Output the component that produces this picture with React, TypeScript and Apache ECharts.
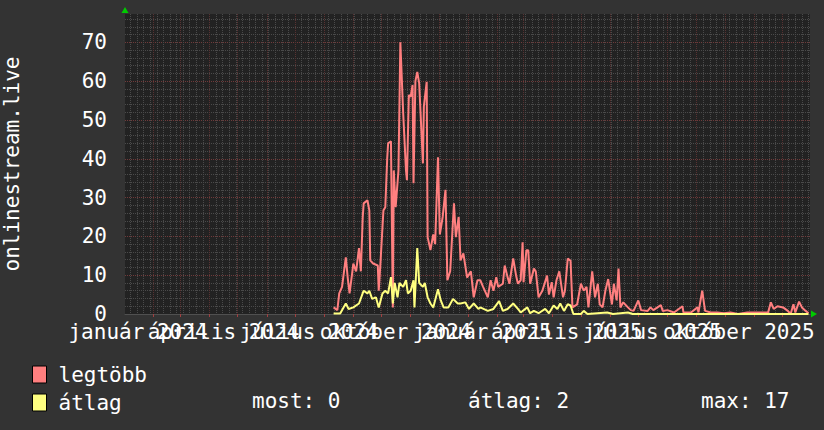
import React, { useEffect, useRef } from "react";
import * as echarts from "echarts";

const FONT = "DejaVu Sans Mono";

// days counted from 2024-01-01
const maxDays = [223,227,229,232,236,238,240,243,244,247,250,252,254,255,259,261,262,265,270,271,273,276,278,280,281,284,286,287,289,292,294,297,300,301,303,305,307,308,310,312,314,318,319,322,323,326,329,331,334,336,339,342,344,347,351,353,356,358,361,365,369,372,376,379,382,387,390,393,396,398,403,405,408,410,414,417,419,422,424,425,428,430,432,436,438,441,445,450,452,455,457,460,463,467,469,472,475,477,482,486,489,492,494,498,501,504,506,509,512,515,519,521,524,526,528,531,536,539,542,547,550,557,560,563,571,573,578,585,594,595,603,610,611,615,618,624,631,638,645,653,663,677,685,688,691,695,701,706,709,712,714,718,721,725,728];
const maxValues = [1.7,1.0,5.3,7,14.6,9.4,5.3,11,13,11,17,11,25,28.5,29.3,26.7,13.8,13,12.5,6,13.8,26.7,27.5,40,44,44.5,1.7,37,27.5,37,70,51.8,37,34.5,56.4,56,59,33.7,60,62.4,59.5,38.8,53.5,59.8,19.8,16.5,20.5,18,40.4,20.5,25,32,8.7,11,28.5,19.8,25,13.8,15.6,9.4,11,4.3,8.7,8.7,7,4.3,8.7,6,9.5,7,7.8,12.5,9.5,7.8,14.3,10,7.8,8.7,18.5,8.2,16.4,16.4,7.8,11.7,11,4.3,6,9.9,5,8.2,4.3,8.7,11,4.3,6,14.3,13.7,1.7,2.5,7.8,6,7,1.7,11,4.3,7.8,2.5,1.7,6,9,2.5,7.8,3.5,11.7,1.7,3,1.7,1,0.8,3.5,1,0.8,1.7,1,2.3,0.8,1,0.4,2,0.4,0.4,1.7,0.4,6,0.8,0.4,0.4,0.2,0.4,0,0.4,0.4,0.4,3,1.3,2,1.7,0.8,0,2.5,0.4,3.2,1.7,0.8,0.2];

const avgDays = [223,230,236,239,244,250,255,259,261,264,268,271,275,278,281,284,286,288,291,293,297,300,302,305,308,309,312,314,318,320,323,326,329,334,337,340,345,350,355,358,363,367,372,377,379,387,393,399,403,408,414,419,422,429,432,436,441,448,452,457,461,464,468,472,475,478,486,489,493,514,520,536,541,600,660,728];
const avgValues = [0.1,0.1,2.7,1.3,1.7,2.7,6,5.3,6,3.9,4.3,1.7,5.3,6,5.3,9.5,2.7,8,4.3,8,7,8.7,5.3,6,8.7,1.7,17,8,7,8,4.3,2.7,1.7,6.4,3.5,1.7,1.7,3.9,2.7,2.7,3,1.3,2.7,1.3,1.7,0.8,1.3,3.3,0.8,1.3,2.7,1.3,0.4,1.7,0.2,0.8,0.2,1.3,0.2,2.2,1.3,2.7,0.8,2.5,2.2,0,0,0.8,0,0.4,0,0.4,0,0,0,0];

const xLabelDays = [15, 106, 197, 289, 381, 471, 562, 654];
const xLabelTexts = ["január 2024", "április 2024", "július 2024", "október 2024", "január 2025", "április 2025", "július 2025", "október 2025"];

const seriesNames = ["legtöbb", "átlag"];
const statLabels = ["most", "átlag", "max"];
const statValues = [0, 2, 17];

const X_MIN = 1.2;
const X_MAX = 729.6;
const Y_MAX = 77.3;

const DAY = 86400000;
const BASE = Date.UTC(2024, 0, 1);
const monthStarts: number[] = [];
for (let y = 2024; y <= 2026; y++) {
  for (let m = 0; m < 12; m++) {
    monthStarts.push(Math.round((Date.UTC(y, m, 1) - BASE) / DAY));
  }
}
const weekStarts: number[] = [];
for (let d = 0; d <= 735; d += 7) weekStarts.push(d);

const oddLabelDays = xLabelDays.filter((_, i) => i % 2 === 0);
const evenLabelDays = xLabelDays.filter((_, i) => i % 2 === 1);

export default function App() {
  const ref = useRef<HTMLDivElement>(null);
  useEffect(() => {
    if (!ref.current) return;
    const chart = echarts.init(ref.current, null, { renderer: "svg" });
    const white = "#ffffff";
    const majorGridH = "#703a3a";
    const majorGridV = "#583232";
    const minorGrid = "#4a4a4a";
    const FS = 21;
    const statX = [252, 468, 701];
    const labelFmt = (v: number) => {
      const i = xLabelDays.indexOf(Math.round(v));
      return i >= 0 ? xLabelTexts[i] : "";
    };
    const labelCommon = {
      color: white, fontFamily: FONT, fontSize: FS, margin: 7,
      hideOverlap: false, showMinLabel: true, showMaxLabel: true, formatter: labelFmt,
    };
    chart.setOption({
      animation: false,
      backgroundColor: "#333333",
      grid: {
        left: 125, right: 14, top: 14, bottom: 116,
        show: true, backgroundColor: "#222222", borderWidth: 0,
        containLabel: false, outerBoundsMode: "none",
      },
      legend: {
        orient: "vertical", left: 32, top: 364, padding: 0, itemWidth: 14, itemHeight: 17, itemGap: 7,
        icon: "rect", selectedMode: false,
        itemStyle: { borderColor: "#000000", borderWidth: 1 },
        textStyle: { color: white, fontFamily: FONT, fontSize: FS, padding: [0, 0, 0, 7] },
        data: seriesNames,
      },
      xAxis: [
        {
          type: "value", min: X_MIN, max: X_MAX, position: "bottom",
          axisLine: { show: false },
          axisTick: { show: false, customValues: weekStarts },
          axisLabel: { show: false },
          splitLine: { show: true, lineStyle: { color: minorGrid, type: "dotted", width: 1 } },
        },
        {
          type: "value", min: X_MIN, max: X_MAX, position: "bottom",
          axisLine: { show: true, lineStyle: { color: "#505050", width: 1 } },
          axisTick: { show: true, customValues: monthStarts, length: 3, lineStyle: { color: "#a04040" } },
          axisLabel: { ...labelCommon, customValues: oddLabelDays },
          splitLine: { show: true, lineStyle: { color: majorGridV, type: "dotted", width: 1 } },
        },
        {
          type: "value", min: X_MIN, max: X_MAX, position: "bottom", offset: 0,
          axisLine: { show: false },
          axisTick: { show: false },
          axisLabel: { ...labelCommon, customValues: evenLabelDays },
          splitLine: { show: false },
        },
      ],
      yAxis: [
        {
          type: "value", min: 0, max: Y_MAX, interval: 2, position: "left",
          axisLine: { show: false }, axisTick: { show: false }, axisLabel: { show: false },
          splitLine: { show: true, showMaxLine: false, lineStyle: { color: minorGrid, type: "dotted", width: 1 } },
        },
        {
          type: "value", min: 0, max: Y_MAX, interval: 10, position: "left",
          name: "onlinestream.live", nameLocation: "middle", nameGap: 103, nameRotate: 90,
          nameTextStyle: { color: white, fontFamily: FONT, fontSize: FS },
          axisLine: { show: false }, axisTick: { show: false },
          axisLabel: {
            color: white, fontFamily: FONT, fontSize: FS, margin: 18, showMaxLabel: false,
            formatter: (v: number) => (v % 10 === 0 ? String(v) : ""),
          },
          splitLine: { show: true, showMaxLine: false, lineStyle: { color: majorGridH, type: "dotted", width: 1 } },
        },
      ],
      series: [
        {
          name: seriesNames[0], type: "line", xAxisIndex: 1, yAxisIndex: 1, symbol: "none", z: 3,
          color: "#ff7f7f", lineStyle: { width: 2, color: "#ff7f7f" },
          data: maxDays.map((d, i) => [d, maxValues[i]]),
        },
        {
          name: seriesNames[1], type: "line", xAxisIndex: 1, yAxisIndex: 1, symbol: "none", z: 4,
          color: "#ffff80", lineStyle: { width: 2, color: "#ffff80" },
          data: avgDays.map((d, i) => [d, avgValues[i]]),
        },
      ],
      graphic: [
        { type: "polygon", shape: { points: [[125, 7], [121.5, 13], [128.5, 13]] }, style: { fill: "#00cc00" } },
        { type: "polygon", shape: { points: [[817, 314], [811, 310.5], [811, 317.5]] }, style: { fill: "#00cc00" } },
        ...statLabels.map((s, i) => ({
          type: "text", x: statX[i], y: 401,
          style: { text: `${s}: ${statValues[i]}`, fill: white, font: `${FS}px '${FONT}'`, verticalAlign: "middle", align: "left" },
        })),
      ],
    });
    return () => chart.dispose();
  }, []);
  return <div ref={ref} style={{ position: "fixed", left: 0, top: 0, width: 824, height: 430 }} />;
}
